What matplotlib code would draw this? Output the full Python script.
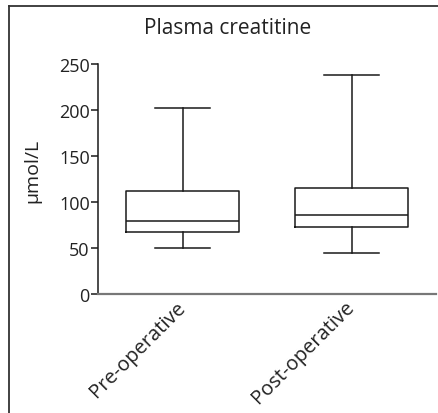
import matplotlib
matplotlib.use("Agg")
import matplotlib.pyplot as plt
from matplotlib.lines import Line2D
from matplotlib.transforms import ScaledTranslation

# box statistics (umol/L)
groups = ["Pre-operative", "Post-operative"]
whisker_low = [49.5, 44.5]
q1 = [67, 72.5]
median = [79, 85.5]
q3 = [111.5, 115]
whisker_high = [202.5, 238]
yticks = [0, 50, 100, 150, 200, 250]

plt.rcParams['font.family'] = ['Open Sans', 'DejaVu Sans']

fig = plt.figure(figsize=(4.38, 4.14), dpi=100, facecolor='white')
ax = fig.add_axes([98 / 438, 1 - 295 / 414, 338 / 438, 230 / 414])

stats = []
for i, g in enumerate(groups):
    stats.append(dict(label=g, whislo=whisker_low[i], q1=q1[i], med=median[i],
                      q3=q3[i], whishi=whisker_high[i], fliers=[]))

ink = '#1a1a1a'
ax.bxp(stats, positions=[1, 2], widths=0.67, showfliers=False,
       boxprops=dict(color=ink, lw=1.1),
       medianprops=dict(color=ink, lw=1.1),
       whiskerprops=dict(color=ink, lw=1.1),
       capprops=dict(color=ink, lw=1.1), capwidths=0.33)

ax.set_xlim(0.5, 2.5)
ax.set_ylim(0, 250)
ax.set_yticks(yticks)
ax.spines['top'].set_visible(False)
ax.spines['right'].set_visible(False)
ax.spines['left'].set_color(ink)
ax.spines['left'].set_linewidth(1.1)
ax.spines['bottom'].set_color('#777777')
ax.spines['bottom'].set_linewidth(1.6)
ax.tick_params(axis='y', length=5, width=1.1, color=ink, labelsize=13,
               labelcolor='#222222', pad=1)
ax.tick_params(axis='x', length=0, labelsize=14.5, labelcolor='#222222', pad=2)
ax.set_xticks([1, 2])
ax.set_xticklabels(groups, rotation=45, ha='right', rotation_mode='anchor')
shift = ScaledTranslation(-7 / 100, 0, fig.dpi_scale_trans)
for lab in ax.get_xticklabels():
    lab.set_transform(lab.get_transform() + shift)

fig.text(32 / 438, 1 - 171 / 414, 'µmol/L', rotation=90, ha='center', va='center',
         fontsize=14, color='#222222')
fig.text(228 / 438, 1 - 29 / 414, 'Plasma creatitine', ha='center', va='center',
         fontsize=15, color='#222222')

# outer frame (left and top edges visible)
fig.add_artist(Line2D([8.5 / 438, 8.5 / 438], [0, 1 - 7 / 414], transform=fig.transFigure,
                      color='#333333', lw=1.3))
fig.add_artist(Line2D([8.5 / 438, 1], [1 - 7 / 414, 1 - 7 / 414], transform=fig.transFigure,
                      color='#333333', lw=1.3))

fig.savefig('out.png', dpi=100, facecolor='white')
